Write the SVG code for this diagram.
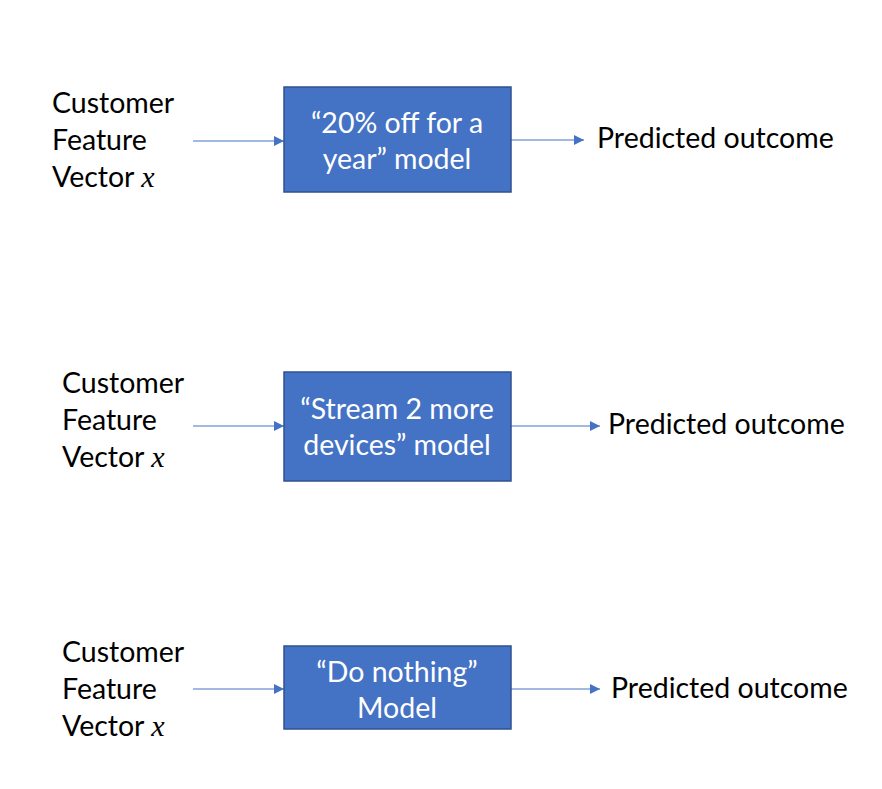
<svg xmlns="http://www.w3.org/2000/svg" width="882" height="789" viewBox="0 0 882 789">
<style>
.lbl{font-family:Lato,"Open Sans",sans-serif;font-size:28.5px;fill:#000}
.box{fill:#4472C4;stroke:#2F528F;stroke-width:1.5}
.bt{font-family:Lato,"Open Sans",sans-serif;font-size:28.5px;fill:#fff;text-anchor:middle}
.var{font-family:"Liberation Serif",serif;font-style:italic;font-size:30px}
.conn{stroke:#4472C4;stroke-width:1;fill:none;marker-end:url(#ah)}
</style>
<defs>
<marker id="ah" viewBox="0 0 10 10" refX="10" refY="5" markerWidth="10" markerHeight="10" markerUnits="userSpaceOnUse" orient="auto">
<path d="M0,0 L10,5 L0,10 z" fill="#4472C4"/>
</marker>
</defs>
<rect width="882" height="789" fill="#fff"/>
<g id="connectors">
<line class="conn" x1="193" y1="141" x2="284" y2="141"/>
<line class="conn" x1="511" y1="140" x2="584" y2="140"/>
<line class="conn" x1="193" y1="426" x2="284" y2="426"/>
<line class="conn" x1="511" y1="426" x2="600" y2="426"/>
<line class="conn" x1="193" y1="689" x2="284" y2="689"/>
<line class="conn" x1="511" y1="689" x2="600" y2="689"/>
</g>
<g id="input1">
<text class="lbl" x="52" y="113">Customer</text>
<text class="lbl" x="52" y="150">Feature</text>
<text class="lbl" x="52" y="187">Vector <tspan class="var">x</tspan></text>
</g>
<g id="model1">
<rect class="box" x="284" y="87" width="227" height="105"/>
<text class="bt" x="397" y="133">“20% off for a</text>
<text class="bt" x="397" y="169">year” model</text>
</g>
<g id="output1">
<text class="lbl" x="597" y="148">Predicted outcome</text>
</g>
<g id="input2">
<text class="lbl" x="62" y="393">Customer</text>
<text class="lbl" x="62" y="430">Feature</text>
<text class="lbl" x="62" y="467">Vector <tspan class="var">x</tspan></text>
</g>
<g id="model2">
<rect class="box" x="284" y="372" width="227" height="109"/>
<text class="bt" x="397" y="419">“Stream 2 more</text>
<text class="bt" x="397" y="455">devices” model</text>
</g>
<g id="output2">
<text class="lbl" x="608" y="434">Predicted outcome</text>
</g>
<g id="input3">
<text class="lbl" x="62" y="662">Customer</text>
<text class="lbl" x="62" y="699">Feature</text>
<text class="lbl" x="62" y="736">Vector <tspan class="var">x</tspan></text>
</g>
<g id="model3">
<rect class="box" x="284" y="646" width="227" height="83"/>
<text class="bt" x="397" y="682">“Do nothing”</text>
<text class="bt" x="397" y="718">Model</text>
</g>
<g id="output3">
<text class="lbl" x="611" y="698">Predicted outcome</text>
</g>
</svg>
